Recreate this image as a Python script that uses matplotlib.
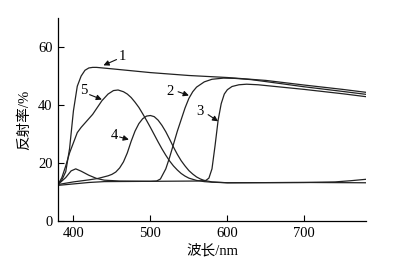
import matplotlib
matplotlib.use('Agg')
import matplotlib.pyplot as plt

plt.rcParams['font.family'] = ['Liberation Serif', 'Noto Sans CJK SC']
plt.rcParams['font.size'] = 10.5

# spectra (wavelength nm, reflectance %)
wl1 = [380, 385, 390, 395, 400, 405, 410, 415, 420, 425, 430, 450, 500, 550, 600, 650, 700, 750, 780]
r1 = [12.8, 14.2, 17, 25, 38, 46.5, 50, 52, 52.8, 53.0, 53.0, 52.5, 51.2, 50.2, 49.5, 48.5, 46.9, 45.4, 44.4]

wl2 = [380, 390, 397, 403, 410, 420, 430, 440, 460, 500, 508, 513, 520, 525, 530, 535, 540, 545, 550,
       555, 560, 570, 580, 595, 610, 630, 650, 700, 750, 780]
r2 = [12.6, 15, 17.3, 18.0, 17.2, 15.8, 14.7, 14.1, 13.8, 13.7, 13.8, 14.5, 18, 22, 26.5, 31, 35,
      39, 42.3, 44.6, 46.2, 48.0, 48.9, 49.3, 49.2, 48.8, 48.1, 46.3, 44.7, 43.7]

wl3 = [380, 400, 420, 440, 500, 560, 572, 576, 580, 584, 588, 592, 596, 600, 606, 615, 625, 640,
       700, 750, 780]
r3 = [12.3, 12.8, 13.3, 13.6, 13.7, 13.8, 14.0, 14.8, 18, 26, 34.8, 40.5, 43.8, 45.3, 46.4, 47.0,
      47.2, 47.0, 45.4, 43.9, 42.9]

wl4 = [380, 400, 420, 432, 445, 450, 455, 460, 465, 470, 475, 480, 485, 490, 495, 500, 505, 510,
       515, 520, 525, 530, 535, 540, 545, 550, 555, 560, 565, 570, 580, 600, 700, 780]
r4 = [12.6, 13.5, 14.2, 14.7, 15.6, 16.1, 16.9, 18.3, 20.4, 23.5, 27.5, 31, 33.6, 35.3, 36.2, 36.4,
      36.0, 34.8, 33.0, 30.8, 28.2, 25.5, 23, 20.8, 19, 17.4, 16.2, 15.2, 14.5, 14, 13.5, 13.2,
      13.3, 13.2]

wl5 = [380, 385, 390, 395, 400, 405, 410, 415, 425, 437, 445, 452, 458, 465, 470, 475, 480, 485,
       490, 495, 500, 505, 510, 515, 520, 525, 530, 535, 540, 545, 550, 560, 570, 580, 600, 700,
       740, 760, 780]
r5 = [12.6, 15, 19, 23.5, 27, 30.5, 32.3, 33.8, 36.8, 41.5, 43.8, 45, 45.2, 44.6, 43.8, 42.6, 41,
      39.2, 37, 34.7, 32.3, 29.8, 27.3, 24.9, 22.7, 20.7, 19, 17.6, 16.4, 15.5, 14.8, 14, 13.6,
      13.4, 13.2, 13.3, 13.5, 13.9, 14.4]

# curve labels: text position, arrow tail, arrow head
labels = ['1', '2', '3', '4', '5']
text_xy = [(463, 56.6), (526, 44.6), (565, 37.7), (453, 29.5), (414, 45.1)]
tail_xy = [(456, 55.7), (536, 44.6), (575, 36.7), (460, 29.0), (421, 43.6)]
head_xy = [(439, 53.7), (550, 43.3), (588, 34.4), (472, 28.1), (437, 41.9)]

fig = plt.figure(figsize=(4.03, 2.66), dpi=100)
ax = fig.add_axes([0.144, 0.169, 0.764, 0.763])

for wl, r in [(wl1, r1), (wl2, r2), (wl3, r3), (wl4, r4), (wl5, r5)]:
    ax.plot(wl, r, color='#222222', lw=0.9)

for lab, t, a, h in zip(labels, text_xy, tail_xy, head_xy):
    ax.text(t[0], t[1], lab, ha='center', va='center', fontsize=10.5)
    ax.annotate('', xy=h, xytext=a,
                arrowprops=dict(arrowstyle='-|>', lw=0.8, color='#111111', mutation_scale=8,
                                shrinkA=0, shrinkB=0))

ax.set_xlim(380, 780)
ax.set_ylim(0, 70)
ax.set_xticks([400, 500, 600, 700])
ax.set_yticks([0, 20, 40, 60])
ax.tick_params(direction='in', length=4, width=0.8, labelsize=10.5, pad=4)
ax.spines['top'].set_visible(False)
ax.spines['right'].set_visible(False)
for s in ['left', 'bottom']:
    ax.spines[s].set_linewidth(0.9)

ax.set_xlabel('波长/nm', fontsize=10.5, labelpad=3)
ax.set_ylabel('反射率/%', fontsize=10.5, labelpad=5)

fig.savefig('out.png', dpi=100)
